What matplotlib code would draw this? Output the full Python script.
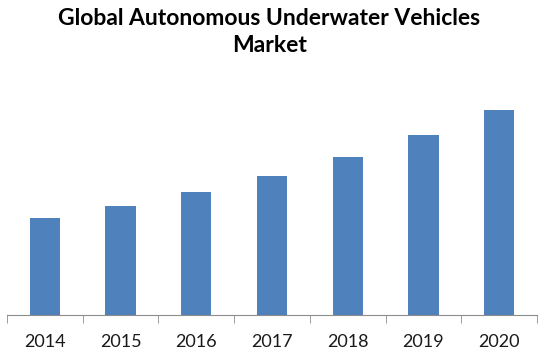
"""Global AUV market bar chart."""
import matplotlib
matplotlib.use("Agg")
import matplotlib.pyplot as plt
import numpy as np

years = ["2014", "2015", "2016", "2017", "2018", "2019", "2020"]
market_size = [97, 109, 123, 139, 158, 180, 205]

W, H = 550, 362
fig = plt.figure(figsize=(W / 100, H / 100), dpi=100)
ax = fig.add_axes([7 / W, (H - 315) / H, 530 / W, 245 / H])

x = np.arange(len(years))
ax.bar(x, market_size, width=0.4, color="#4F81BD")

ax.set_xlim(-0.5, len(years) - 0.5)
ax.set_ylim(0, 245)
for side in ("top", "right", "left"):
    ax.spines[side].set_visible(False)
ax.spines["bottom"].set_color("#8c8c8c")
ax.set_yticks([])
ax.set_xticks(x, years)
ax.set_xticks(np.arange(len(years) + 1) - 0.5, minor=True)
ax.tick_params(axis="x", which="major", length=0, pad=14, labelsize=13,
               labelcolor="#1a1a1a")
ax.tick_params(axis="x", which="minor", length=6, color="#8c8c8c")
for lbl in ax.get_xticklabels():
    lbl.set_fontfamily("Lato")

fig.text(0.49, 1 - 32 / H, "Global Autonomous Underwater Vehicles\nMarket",
         ha="center", va="center", fontsize=16.5, fontweight="bold",
         family="Lato", linespacing=1.3)

fig.savefig("out.png", dpi=100)
